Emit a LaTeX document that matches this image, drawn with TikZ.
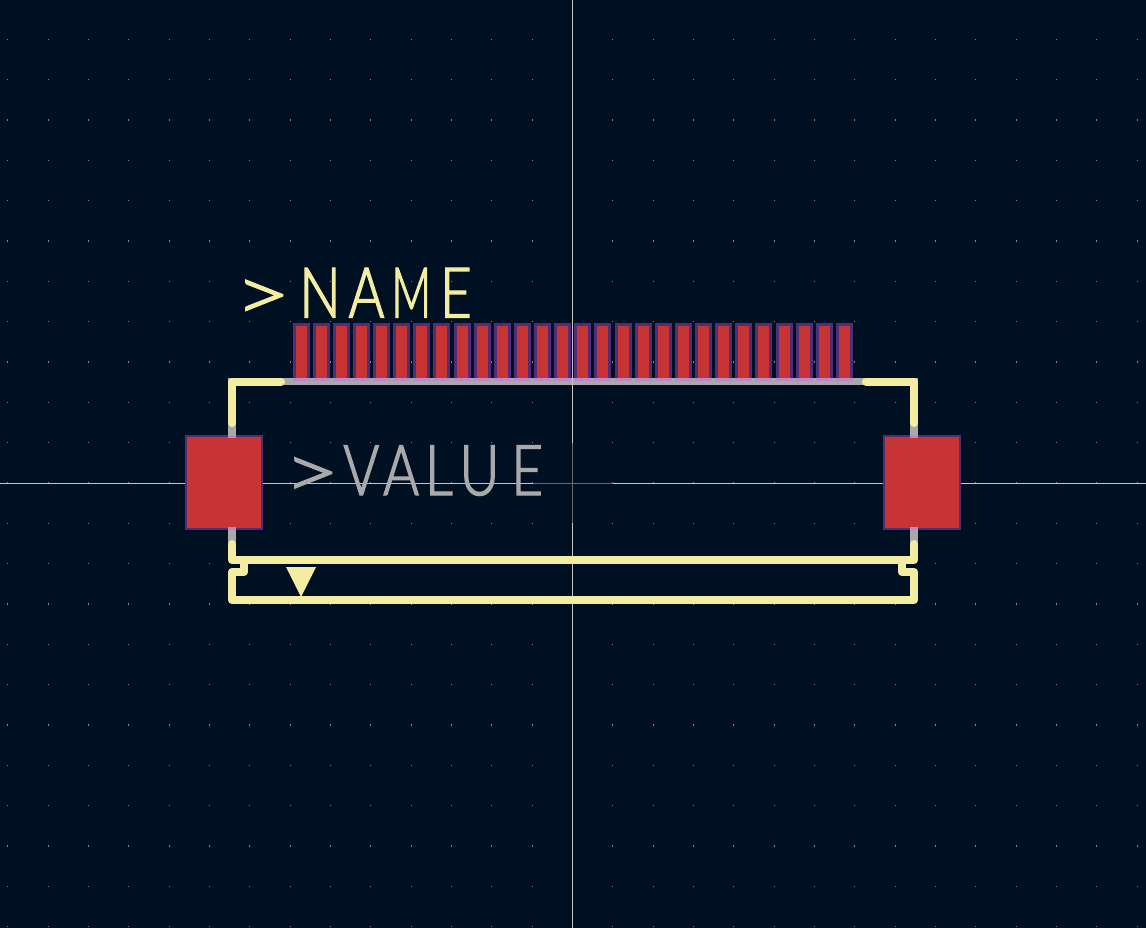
\documentclass[tikz,border=0pt]{standalone}
\usepackage{fontspec}
\usepackage{graphicx}
\newfontfamily\silkfont[FakeStretch=0.78,FakeBold=2,Kerning=Off]{Lato Light}
\newcommand{\silkgt}{\raisebox{-2.5pt}{\scalebox{1.75}[1.05]{>}}}
\definecolor{boardbg}{HTML}{001023}
\definecolor{griddot}{HTML}{7C8792}
\definecolor{crossbright}{HTML}{C4C6C8}
\definecolor{crossdim}{HTML}{666A6E}
\definecolor{silk}{HTML}{F4EDA1}
\definecolor{fabgray}{HTML}{A9A9A9}
\definecolor{padred}{HTML}{C83434}
\definecolor{padedge}{HTML}{4F2E78}
\definecolor{padpink}{HTML}{BC88C8}
\tikzset{
  silkline/.style={draw=silk,line width=8pt,line cap=round,line join=round},
  fabline/.style={draw=fabgray,line width=7.6pt,line cap=butt,line join=miter},
  padbox/.style={fill=padred,draw=padedge,line width=3pt},
  bigpad/.style={fill=padred,draw=padedge,line width=2.5pt},
  crossline/.style={draw=crossbright,line width=1pt},
  crossfade/.style={draw=crossdim,line width=1pt},
  silktext/.style={anchor=base west,inner sep=0pt,outer sep=0pt,font=\silkfont\fontsize{70}{70}\selectfont}
}
\begin{document}
\begin{tikzpicture}[x=1pt,y=-1pt]
\useasboundingbox (0,0) rectangle (1146,928);
\fill[boardbg] (0,0) rectangle (1146,928);
% grid
\foreach \i in {-14,...,14}{
  \foreach \j in {-11,...,11}{
    \fill[griddot] ({572.5+40.33*\i-0.6},{483+40.33*\j-0.6}) rectangle ++(1.2,1.2);
  }
}
% crosshair
\draw[crossline] (572.5,0) -- (572.5,928);
\draw[crossline] (0,483.3) -- (1146,483.3);
\draw[crossfade] (572.5,443) -- (572.5,523);
\draw[crossfade] (533,483.3) -- (613,483.3);
% fabrication outline
\draw[fabline] (232,435) -- (232,381.5) -- (914,381.5) -- (914,435);
\draw[fabline] (232,530) -- (232,545);
\draw[fabline] (914,530) -- (914,545);
% crosshair over the fabrication line
\draw[crossline] (572.5,378) -- (572.5,385.5);
% fine-pitch pads
\foreach \k in {0,...,27}{
  \path[padbox] ({301+20.13*\k-7},324.5) rectangle ({301+20.13*\k+7},379.5);
  \fill[padpink] ({301+20.13*\k-8.5},378) rectangle ({301+20.13*\k+8.5},381);
}
% mounting pads
\path[bigpad] (186.2,436.2) rectangle (261.8,528.8);
\path[bigpad] (884.2,436.2) rectangle (959.8,528.8);
\fill[padpink] (228.2,435) rectangle (235.8,438);
\fill[padpink] (228.2,527) rectangle (235.8,530);
\fill[padpink] (910.2,435) rectangle (917.8,438);
\fill[padpink] (910.2,527) rectangle (917.8,530);
% silkscreen
\draw[silkline] (281,381.5) -- (232,381.5) -- (232,423);
\draw[silkline] (866,381.5) -- (914,381.5) -- (914,423);
\draw[silkline] (232,544) -- (232,560) -- (914,560) -- (914,544);
\draw[silkline] (244,560) -- (244,572) -- (232,572) -- (232,600) -- (914,600) -- (914,572) -- (902,572) -- (902,560);
\fill[silk] (286,567) -- (316,567) -- (301,597) -- cycle;
% texts
\node[silktext,text=silk] (nametext) at (235,317.5) {\silkgt\kern 9pt N\kern 8pt A\kern 7pt \scalebox{0.8}[1]{M}\kern 9pt E};
\node[silktext,text=fabgray] (valuetext) at (284,495) {\silkgt\kern 4pt V\kern 4pt A\kern 6pt L\kern 7pt U\kern 12pt E};
\end{tikzpicture}
\end{document}
